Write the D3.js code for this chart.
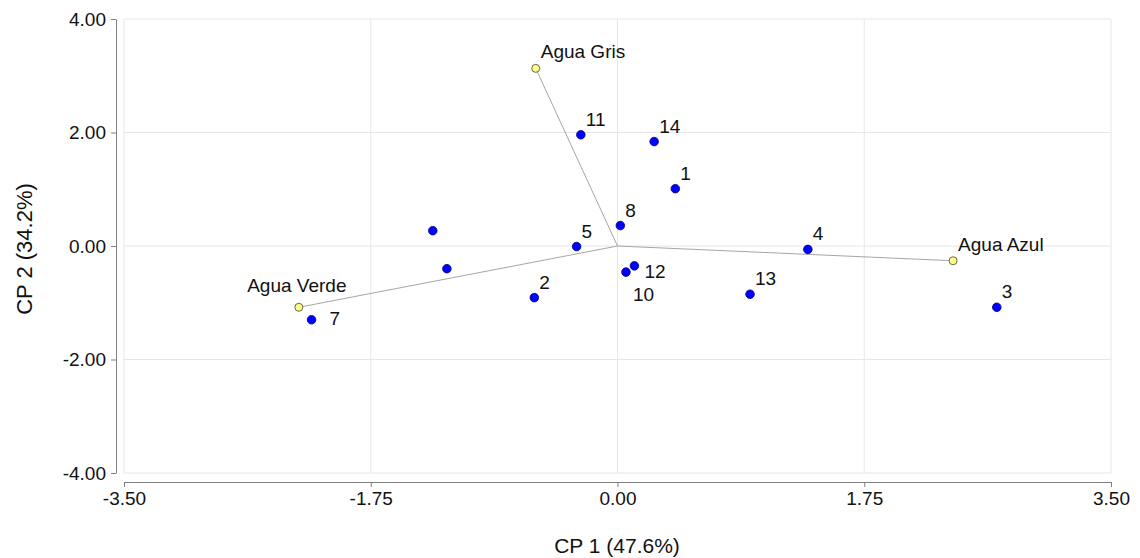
<!DOCTYPE html>
<html>
<head>
<meta charset="utf-8">
<script src="https://cdnjs.cloudflare.com/ajax/libs/d3/7.8.5/d3.min.js"></script>
<style>
    body { margin: 0; background: #fff; }
    .plot text { font-family: Arial, "Liberation Sans", sans-serif; fill: #111; }
</style>
</head>
<body>
<div class="plot"></div>
<script>
// samples (PCA scores)
const sampleLabels = ["1", "2", "3", "4", "5", "7", "8", "10", "11", "12", "13", "14", "", ""];
const sampleX = [0.41, -0.59, 2.69, 1.35, -0.29, -2.17, 0.02, 0.06, -0.26, 0.12, 0.94, 0.26, -1.31, -1.21];
const sampleY = [1.01, -0.91, -1.08, -0.06, -0.01, -1.30, 0.36, -0.46, 1.96, -0.35, -0.85, 1.84, 0.27, -0.40];

// variables (loadings)
const varLabels = ["Agua Gris", "Agua Azul", "Agua Verde"];
const varX = [-0.58, 2.38, -2.26];
const varY = [3.13, -0.26, -1.08];

const xTicks = [-3.5, -1.75, 0, 1.75, 3.5];
const yTicks = [-4, -2, 0, 2, 4];

// label placement tweaks
const labelOffset = {
    "12": [10, 12],
    "10": [7, 29],
    "7": [18, 5],
};

const svg = d3
    .select(".plot")
    .append("svg")
    .attr("width", 1140)
    .attr("height", 558);

const xScale = d3.scaleLinear().domain([-3.5, 3.5]).range([124, 1111]);
const yScale = d3.scaleLinear().domain([-4, 4]).range([473, 19]);
const fmt = d3.formatLocale({ decimal: ".", thousands: ",", grouping: [3], currency: ["", ""], minus: "-" }).format(".2f");

// grid
svg.append("g")
    .selectAll("line")
    .data(xTicks)
    .join("line")
    .attr("x1", (d) => xScale(d))
    .attr("x2", (d) => xScale(d))
    .attr("y1", yScale(-4))
    .attr("y2", yScale(4))
    .attr("stroke", "#e6e6e6");

svg.append("g")
    .selectAll("line")
    .data(yTicks)
    .join("line")
    .attr("y1", (d) => yScale(d))
    .attr("y2", (d) => yScale(d))
    .attr("x1", xScale(-3.5))
    .attr("x2", xScale(3.5))
    .attr("stroke", "#e6e6e6");

// axes
const yAxis = svg
    .append("g")
    .attr("transform", "translate(116, 0)")
    .call(d3.axisLeft(yScale).tickValues(yTicks).tickFormat(fmt).tickSize(5).tickSizeOuter(0).tickPadding(5));

const xAxis = svg
    .append("g")
    .attr("transform", "translate(0, 482)")
    .call(d3.axisBottom(xScale).tickValues(xTicks).tickFormat(fmt).tickSize(5).tickSizeOuter(0).tickPadding(5));

[xAxis, yAxis].forEach((ax) => {
    ax.select(".domain").attr("stroke", "#808080");
    ax.selectAll(".tick line").attr("stroke", "#808080");
    ax.selectAll(".tick text")
        .style("font-size", "19px")
        .style("font-family", "Arial, 'Liberation Sans', sans-serif")
        .attr("fill", "#111");
});

svg.append("text")
    .attr("x", 617)
    .attr("y", 553)
    .attr("text-anchor", "middle")
    .style("font-size", "21px")
    .text("CP 1 (47.6%)");

svg.append("text")
    .attr("transform", "rotate(-90)")
    .attr("x", -249)
    .attr("y", 32)
    .attr("text-anchor", "middle")
    .style("font-size", "22px")
    .text("CP 2 (34.2%)");

// vectors from origin
svg.append("g")
    .selectAll("line")
    .data(varLabels)
    .join("line")
    .attr("x1", xScale(0))
    .attr("y1", yScale(0))
    .attr("x2", (d, i) => xScale(varX[i]))
    .attr("y2", (d, i) => yScale(varY[i]))
    .attr("stroke", "#a6a6a6")
    .attr("stroke-width", 1);

// sample points
svg.append("g")
    .selectAll("circle")
    .data(sampleLabels)
    .join("circle")
    .attr("cx", (d, i) => xScale(sampleX[i]))
    .attr("cy", (d, i) => yScale(sampleY[i]))
    .attr("r", 4.3)
    .attr("fill", "#0000ff")
    .attr("stroke", "#00007a")
    .attr("stroke-width", 0.8);

svg.append("g")
    .selectAll("text")
    .data(sampleLabels)
    .join("text")
    .attr("x", (d, i) => xScale(sampleX[i]) + (labelOffset[d] ? labelOffset[d][0] : 5))
    .attr("y", (d, i) => yScale(sampleY[i]) + (labelOffset[d] ? labelOffset[d][1] : -9))
    .style("font-size", "19px")
    .text((d) => d);

// variable points
svg.append("g")
    .selectAll("circle")
    .data(varLabels)
    .join("circle")
    .attr("cx", (d, i) => xScale(varX[i]))
    .attr("cy", (d, i) => yScale(varY[i]))
    .attr("r", 4)
    .attr("fill", "#ffff80")
    .attr("stroke", "#404040")
    .attr("stroke-width", 0.8);

svg.append("g")
    .selectAll("text")
    .data(varLabels)
    .join("text")
    .attr("x", (d, i) => xScale(varX[i]) + (d === "Agua Verde" ? -2 : 5))
    .attr("y", (d, i) => yScale(varY[i]) + (d === "Agua Verde" ? -15 : -10))
    .attr("text-anchor", (d) => (d === "Agua Verde" ? "middle" : "start"))
    .style("font-size", "19px")
    .text((d) => d);
</script>
</body>
</html>
